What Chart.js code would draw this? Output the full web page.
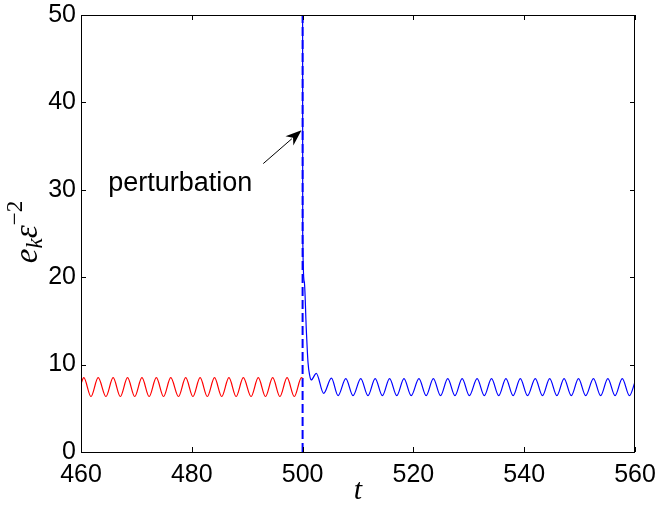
<!DOCTYPE html>
<html>
<head>
<meta charset="utf-8">
<script src="https://cdn.jsdelivr.net/npm/chart.js@4"></script>
<style>
  body { margin: 0; background: #fff; }
  canvas { display: block; }
</style>
</head>
<body>
<canvas id="chart" width="657" height="513"></canvas>
<script>
// ticks
const xTicks = [460, 480, 500, 520, 540, 560];
const yTicks = [0, 10, 20, 30, 40, 50];

// before the perturbation (red)
const redT = [460, 460.5, 461.8, 463.1, 464.5, 465.8, 467.1, 468.4, 469.7, 471.0, 472.3, 473.6, 474.9,
  476.2, 477.6, 478.9, 480.2, 481.5, 482.8, 484.1, 485.4, 486.7, 488.0, 489.3, 490.7, 492.0,
  493.3, 494.6, 495.9, 497.2, 498.5, 499.8, 500];
const redE = [7.8, 8.5, 6.35, 8.5, 6.35, 8.5, 6.35, 8.5, 6.35, 8.5, 6.35, 8.5, 6.35,
  8.5, 6.35, 8.5, 6.35, 8.5, 6.35, 8.5, 6.35, 8.5, 6.35, 8.5, 6.35, 8.5,
  6.35, 8.5, 6.35, 8.5, 6.35, 8.5, 8.45];

// after the perturbation (blue)
const blueT = [500, 500.02, 500.3, 500.67, 500.97, 501.27, 501.57, 502.47, 503.8,
  505.2, 506.4, 507.8, 509.1, 510.5, 511.8, 513.1, 514.4, 515.7, 517.0, 518.3, 519.6,
  521.0, 522.3, 523.6, 524.9, 526.2, 527.5, 528.8, 530.1, 531.5, 532.8, 534.1, 535.4,
  536.7, 538.0, 539.3, 540.6, 542.0, 543.3, 544.6, 545.9, 547.2, 548.5, 549.8, 551.1,
  552.5, 553.8, 555.1, 556.4, 557.7, 559.0, 560];
const blueE = [50, 25, 19.5, 14, 10.3, 8.8, 8.25, 9.0, 6.7,
  8.45, 6.45, 8.4, 6.45, 8.4, 6.45, 8.4, 6.45, 8.4, 6.45, 8.4, 6.45,
  8.4, 6.45, 8.4, 6.45, 8.4, 6.45, 8.4, 6.45, 8.4, 6.45, 8.4, 6.45,
  8.4, 6.45, 8.4, 6.45, 8.4, 6.45, 8.4, 6.45, 8.4, 6.45, 8.4, 6.45,
  8.4, 6.45, 8.4, 6.45, 8.4, 6.45, 8.0];

// dashed marker at the perturbation time
const markT = [500, 500];
const markE = [0, 50];

// annotation (data coords)
const noteText = 'perturbation';
const notePos = [464.9, 29.9];
const arrowFrom = [492.9, 33.0];
const arrowTo = [499.8, 36.8];

const toPts = (ts, es) => ts.map((t, i) => ({ x: t, y: es[i] }));

const decorations = {
  id: 'decorations',
  afterDraw(chart) {
    const { ctx, chartArea: a, scales: { x, y } } = chart;
    ctx.save();
    // box
    ctx.strokeStyle = '#000';
    ctx.lineWidth = 1;
    ctx.strokeRect(Math.round(a.left) + 0.5, Math.round(a.top) + 0.5,
      Math.round(a.right - a.left) - 1, Math.round(a.bottom - a.top));
    // inward ticks on all four sides
    const tl = 5;
    ctx.beginPath();
    xTicks.forEach(v => {
      const px = Math.round(x.getPixelForValue(v)) + 0.5;
      ctx.moveTo(px, a.bottom); ctx.lineTo(px, a.bottom - tl);
      ctx.moveTo(px, a.top); ctx.lineTo(px, a.top + tl);
    });
    yTicks.forEach(v => {
      const py = Math.round(y.getPixelForValue(v)) + 0.5;
      ctx.moveTo(a.left, py); ctx.lineTo(a.left + tl, py);
      ctx.moveTo(a.right, py); ctx.lineTo(a.right - tl, py);
    });
    ctx.stroke();

    // x title
    ctx.fillStyle = '#000';
    ctx.font = 'italic 30px "Liberation Serif"';
    ctx.textAlign = 'center';
    ctx.textBaseline = 'alphabetic';
    ctx.fillText('t', (a.left + a.right) / 2, 499);

    // y title: e_k ε^{-2}
    ctx.save();
    ctx.translate(37, 232);
    ctx.rotate(-Math.PI / 2);
    const big = 'italic 33px "Liberation Serif"';
    const small = 'italic 23px "Liberation Serif"';
    const smallUp = '23px "Liberation Serif"';
    const parts = [
      { t: 'e', f: big, dy: 0 },
      { t: 'k', f: small, dy: 5 },
      { t: 'ε', f: big, dy: 0 },
      { t: '−2', f: smallUp, dy: -15 }
    ];
    let w = 0;
    parts.forEach(p => { ctx.font = p.f; p.w = ctx.measureText(p.t).width; w += p.w; });
    let cx = -w / 2;
    ctx.textAlign = 'left';
    parts.forEach(p => { ctx.font = p.f; ctx.fillText(p.t, cx, p.dy); cx += p.w; });
    ctx.restore();

    // annotation text
    ctx.font = '27px "Liberation Sans"';
    ctx.textAlign = 'left';
    ctx.fillText(noteText, x.getPixelForValue(notePos[0]), y.getPixelForValue(notePos[1]));

    // arrow
    const x0 = x.getPixelForValue(arrowFrom[0]), y0 = y.getPixelForValue(arrowFrom[1]);
    const x1 = x.getPixelForValue(arrowTo[0]), y1 = y.getPixelForValue(arrowTo[1]);
    const ang = Math.atan2(y1 - y0, x1 - x0);
    const c = Math.cos(ang), s = Math.sin(ang);
    const hl = 16, hw = 6;
    ctx.beginPath();
    ctx.moveTo(x0, y0);
    ctx.lineTo(x1 - hl * 0.8 * c, y1 - hl * 0.8 * s);
    ctx.lineWidth = 1;
    ctx.stroke();
    ctx.beginPath();
    ctx.moveTo(x1, y1);
    ctx.lineTo(x1 - hl * c + hw * s, y1 - hl * s - hw * c);
    ctx.lineTo(x1 - hl * 0.7 * c, y1 - hl * 0.7 * s);
    ctx.lineTo(x1 - hl * c - hw * s, y1 - hl * s + hw * c);
    ctx.closePath();
    ctx.fill();
    ctx.restore();
  }
};

const tickFont = { family: '"Liberation Sans"', size: 25 };

new Chart(document.getElementById('chart'), {
  type: 'line',
  data: {
    datasets: [
      {
        data: toPts(redT, redE),
        borderColor: '#ff0000',
        borderWidth: 1.2,
        pointRadius: 0,
        cubicInterpolationMode: 'monotone'
      },
      {
        data: toPts(blueT, blueE),
        borderColor: '#0000ff',
        borderWidth: 1.2,
        pointRadius: 0,
        cubicInterpolationMode: 'monotone'
      },
      {
        data: toPts(markT, markE),
        borderColor: '#0000ff',
        borderWidth: 2,
        borderDash: [9, 4],
        pointRadius: 0,
        tension: 0
      }
    ]
  },
  options: {
    responsive: false,
    animation: false,
    events: [],
    layout: { padding: { top: 15, right: 22, left: 0, bottom: 0 } },
    plugins: { legend: { display: false }, tooltip: { enabled: false } },
    scales: {
      x: {
        type: 'linear',
        min: 460,
        max: 560,
        grid: { display: false, drawTicks: false },
        border: { display: false },
        ticks: { font: tickFont, color: '#000', padding: 8, maxRotation: 0 },
        afterBuildTicks: s => { s.ticks = xTicks.map(v => ({ value: v })); },
        afterFit: s => { s.height = 61; s.paddingLeft = 0; s.paddingRight = 0; }
      },
      y: {
        min: 0,
        max: 50,
        grid: { display: false, drawTicks: false },
        border: { display: false },
        ticks: { font: tickFont, color: '#000', padding: 5 },
        afterBuildTicks: s => { s.ticks = yTicks.map(v => ({ value: v })); },
        afterFit: s => { s.width = 81; s.paddingTop = 0; s.paddingBottom = 0; }
      }
    }
  },
  plugins: [decorations]
});
</script>
</body>
</html>
